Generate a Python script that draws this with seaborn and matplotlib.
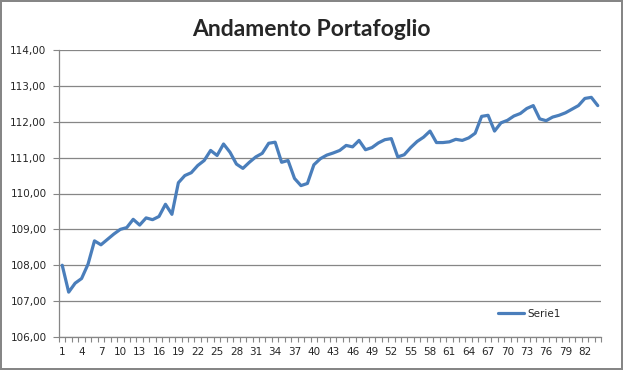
import numpy as np
import pandas as pd
import seaborn as sns
import matplotlib
matplotlib.use("Agg")
import matplotlib.pyplot as plt
from matplotlib.ticker import FuncFormatter, FixedLocator

# dati (84 periodi)
valori = [108.00, 107.25, 107.50, 107.63, 108.03, 108.68, 108.57, 108.72, 108.87, 109.00,
          109.05, 109.28, 109.12, 109.32, 109.27, 109.36, 109.70, 109.42, 110.30, 110.50,
          110.58, 110.78, 110.92, 111.20, 111.06, 111.38, 111.15, 110.82, 110.70, 110.87,
          111.02, 111.12, 111.40, 111.43, 110.87, 110.92, 110.42, 110.22, 110.28, 110.80,
          110.97, 111.07, 111.13, 111.20, 111.34, 111.30, 111.48, 111.22, 111.28, 111.41,
          111.50, 111.53, 111.02, 111.08, 111.28, 111.45, 111.57, 111.74, 111.42, 111.42,
          111.44, 111.51, 111.48, 111.55, 111.68, 112.15, 112.18, 111.74, 111.97, 112.04,
          112.16, 112.23, 112.37, 112.45, 112.08, 112.03, 112.13, 112.18, 112.25, 112.35,
          112.45, 112.65, 112.68, 112.45]
periodi = list(range(1, len(valori) + 1))
etichette_x = list(range(1, 83, 3))
y_ticks = [106, 107, 108, 109, 110, 111, 112, 113, 114]
titolo = "Andamento Portafoglio"
serie = "Serie1"

df = pd.DataFrame({"periodo": periodi, "valore": valori})

sns.set_style("white")
plt.rcParams['font.family'] = ['DejaVu Sans']

grigio = "#868686"
blu = "#4A7EBB"

fig = plt.figure(figsize=(6.23, 3.70), dpi=100)
fig.patch.set_facecolor("white")
fig.patch.set_edgecolor(grigio)
fig.patch.set_linewidth(1.5)

ax = fig.add_axes([59 / 623, 33 / 370, 542 / 623, 287 / 370])
sns.lineplot(data=df, x="periodo", y="valore", color=blu, linewidth=2.3,
             label=serie, ax=ax)

ax.set_xlim(0.5, len(valori) + 0.5)
ax.set_ylim(106, 114)
ax.set_xlabel("")
ax.set_ylabel("")

ax.yaxis.set_major_locator(FixedLocator(y_ticks))
ax.yaxis.set_major_formatter(FuncFormatter(lambda v, p: f"{v:.2f}".replace(".", ",")))
ax.xaxis.set_major_locator(FixedLocator(etichette_x))
ax.xaxis.set_minor_locator(FixedLocator(np.arange(0.5, len(valori) + 1, 1)))

ax.grid(axis="y", color=grigio, linewidth=0.9)
ax.grid(axis="x", visible=False)
ax.set_axisbelow(True)

for s in ["top", "right"]:
    ax.spines[s].set_visible(False)
for s in ["left", "bottom"]:
    ax.spines[s].set_color(grigio)
    ax.spines[s].set_linewidth(0.9)

ax.tick_params(axis="y", which="major", length=4, width=0.8, color=grigio,
               labelsize=7.5, pad=5, left=True)
ax.tick_params(axis="x", which="major", length=0, labelsize=7.5, pad=7)
ax.tick_params(axis="x", which="minor", length=3.5, width=0.8, color=grigio, bottom=True)

fig.text(0.5, 1 - 29 / 370, titolo, ha="center", va="center",
         fontsize=16.5, fontweight="bold", family="Lato")

ax.legend(loc="center left", bbox_to_anchor=(0.80, 0.08), frameon=False,
          fontsize=7.5, handlelength=2.5, handletextpad=0.3, borderpad=0)

fig.savefig("out.png", dpi=100)
